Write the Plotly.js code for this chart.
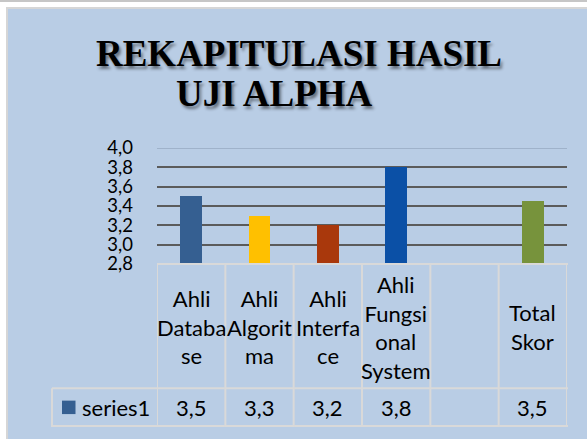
<!DOCTYPE html>
<html><head><meta charset="utf-8">
<script src="https://cdn.plot.ly/plotly-3.0.1.min.js"></script>
<style>
html,body{margin:0;padding:0;background:#fff;width:587px;height:439px;overflow:hidden;}
#topline{position:absolute;left:0;top:0;width:587px;height:2px;background:#C6C6C6;}
#frame{position:absolute;left:6px;top:7px;width:581px;height:432px;background:#D6D6D6;}
#chart{position:absolute;left:8px;top:9px;width:579px;height:430px;}
.gtitle, .annotation[data-index="0"] text { text-shadow: 2px 3px 3px rgba(0,0,0,0.45); }
</style></head><body>
<div id="topline"></div><div id="frame"></div><div id="chart"></div>
<script>
// ---- data ----
const categories = ["Ahli<br>Databa<br>se", "Ahli<br>Algorit<br>ma", "Ahli<br>Interfa<br>ce", "Ahli<br>Fungsi<br>onal<br>System", "", "Total<br>Skor"];
const seriesName = "series1";
const values = [3.5, 3.3, 3.2, 3.8, null, 3.45];
const barColors = ["#355F91", "#FFC000", "#A9380C", "#0B50A6", "#355F91", "#77933C"];
const yTickVals = [2.8, 3.0, 3.2, 3.4, 3.6, 3.8, 4.0];
const titleLines = ["REKAPITULASI HASIL", "UJI ALPHA"];

// ---- layout helpers (page pixel -> paper) ----
const OX = 8, OY = 9;                 // chart div offset on page
const PL = 157, PR = 567, PT = 148, PB = 264.4; // plot area on page
const px = x => (x - PL) / (PR - PL);
const py = y => (PB - y) / (PB - PT);
const FONT = "Lato, 'Open Sans', sans-serif";
const TFONT = {family: "'Liberation Serif', 'Times New Roman', serif", size: 37, color: "#000", weight: "bold"};
const BORDER = "#D9D9D9";
const TXT = {family: FONT, size: 22, color: "#000"};

const idx = categories.map((c, i) => i);
const fmt = v => (v == null ? "" : v.toFixed(1).replace(".", ","));

const trace = {
  type: "bar", x: idx, y: values, name: seriesName, width: 0.32,
  marker: {color: barColors, line: {width: 0}},
  showlegend: false, hoverinfo: "skip"
};

const annotations = [];
annotations.push({text: titleLines[1], x: px(274), xref: "paper", y: py(93), yref: "paper",
  xanchor: "center", yanchor: "middle", showarrow: false, font: TFONT});
categories.forEach((c, i) => {
  if (c) annotations.push({text: c, x: i, xref: "x", y: py(328), yref: "paper",
    xanchor: "center", yanchor: "middle", showarrow: false, align: "center", font: TXT});
  const t = fmt(values[i]);
  if (t) annotations.push({text: t, x: i, xref: "x", y: py(408.5), yref: "paper",
    xanchor: "center", yanchor: "middle", showarrow: false, font: TXT});
});
// legend key text
annotations.push({text: seriesName, x: px(80), xref: "paper", y: py(408.5), yref: "paper",
  xanchor: "left", yanchor: "middle", showarrow: false, font: TXT});

const shapes = [];
const hline = (y, x0, x1) => shapes.push({type: "line", xref: "paper", yref: "paper",
  x0: px(x0), x1: px(x1), y0: py(y), y1: py(y), line: {color: BORDER, width: 2}, layer: "above"});
hline(264.4, PL, PR + 1);
hline(389, 52, PR + 1);
hline(427, 52, PR + 1);
for (let i = 0; i <= categories.length; i++) {
  shapes.push({type: "line", xref: "x", yref: "paper", x0: i - 0.5, x1: i - 0.5,
    y0: py(264.4), y1: py(428), line: {color: BORDER, width: 2}, layer: "above"});
}
shapes.push({type: "line", xref: "paper", yref: "paper", x0: px(52), x1: px(52),
  y0: py(389), y1: py(428), line: {color: BORDER, width: 2}, layer: "above"});
// legend key square
shapes.push({type: "rect", xref: "paper", yref: "paper", x0: px(62), x1: px(75.5),
  y0: py(401.5), y1: py(415), fillcolor: barColors[0], line: {width: 0}, layer: "above"});
// lighter top gridline
shapes.push({type: "line", xref: "paper", yref: "y", x0: 0, x1: 1, y0: yTickVals[yTickVals.length - 1],
  y1: yTickVals[yTickVals.length - 1], line: {color: "#9FB2CA", width: 2}, layer: "above"});

const layout = {
  width: 579, height: 430,
  margin: {l: PL - OX, r: 579 - (PR - OX), t: PT - OY, b: 430 - (PB - OY), pad: 0},
  paper_bgcolor: "#B9CDE5", plot_bgcolor: "rgba(0,0,0,0)",
  separators: ",.",
  title: {text: titleLines[0], font: TFONT, xref: "container", yref: "container",
    x: (299 - OX) / 579, xanchor: "center", y: 1 - (53.5 - OY) / 430, yanchor: "middle"},
  xaxis: {range: [-0.5, categories.length - 0.5], showticklabels: false, showgrid: false,
    zeroline: false, showline: false, ticks: "", fixedrange: true},
  yaxis: {range: [2.8, 4.0], tickvals: yTickVals, tickformat: ".1f", showgrid: true,
    gridcolor: "#5B5B5B", gridwidth: 2, zeroline: false, showline: false, ticks: "",
    ticklabelstandoff: 23, tickfont: {family: FONT, size: 18.5, color: "#000"}, fixedrange: true},
  showlegend: false,
  bargap: 0,
  annotations: annotations,
  shapes: shapes
};

Plotly.newPlot("chart", [trace], layout, {displayModeBar: false, staticPlot: true});
</script>
</body></html>
